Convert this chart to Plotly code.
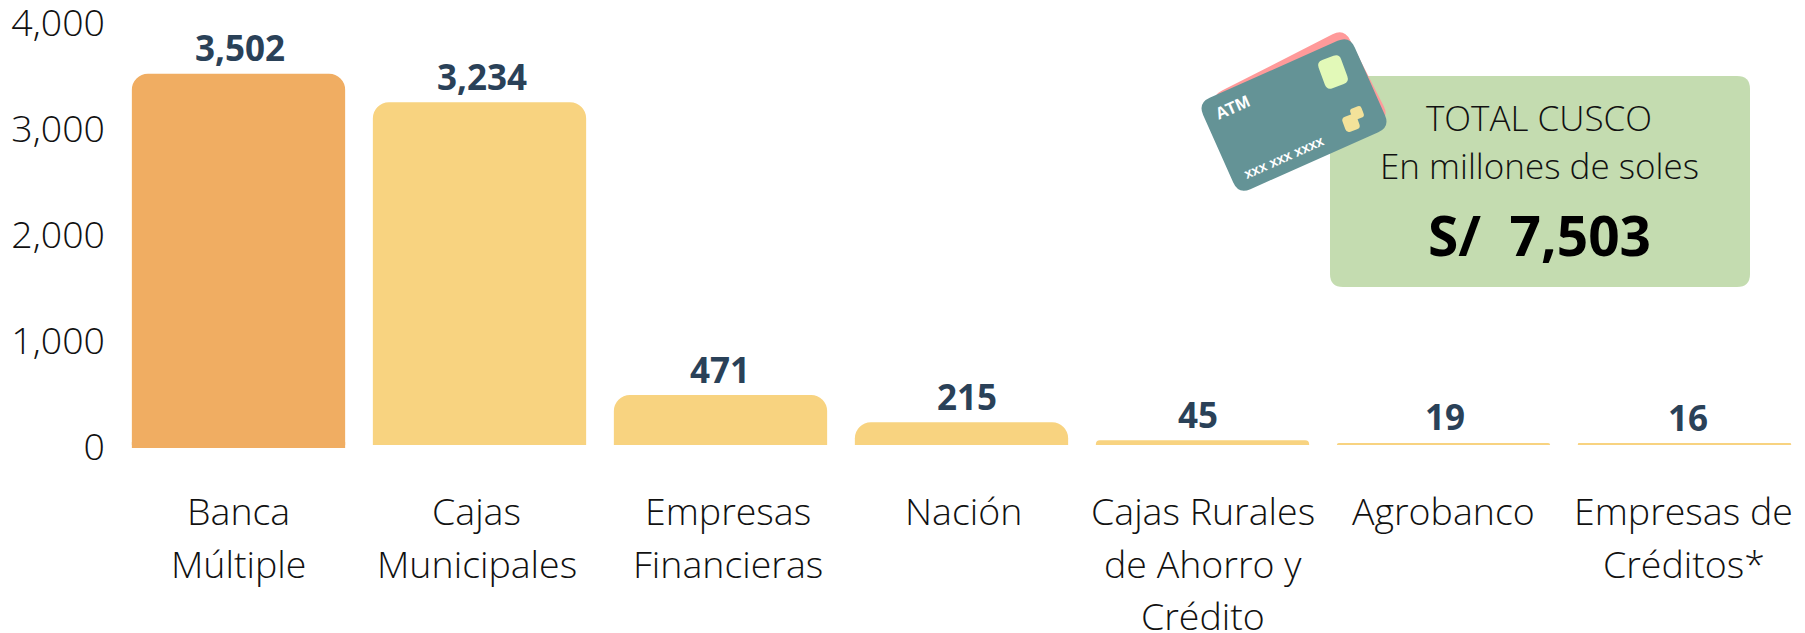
import math
import plotly.graph_objects as go

W, H = 1805, 633
ML, MR, MT, MB = 118, 0, 4, 157

category_lines = [["Banca", "Múltiple"], ["Cajas", "Municipales"], ["Empresas", "Financieras"], ["Nación"],
                  ["Cajas Rurales", "de Ahorro y", "Crédito"], ["Agrobanco"], ["Empresas de", "Créditos*"]]
categories = [" ".join(c) for c in category_lines]
values = [3502, 3234, 471, 215, 45, 19, 16]
value_labels = ["3,502", "3,234", "471", "215", "45", "19", "16"]
bar_colors = ["#F0AD62", "#F8D380", "#F8D380", "#F8D380", "#F8D380", "#F8D380", "#F8D380"]
y_ticks = [0, 1000, 2000, 3000, 4000]
y_tick_labels = ["0", "1,000", "2,000", "3,000", "4,000"]
first_bar_overhang = 28

px_per_unit = 0.106
y_bottom = -(H - MB - 445) / px_per_unit
y_top = (445 - MT) / px_per_unit


def px(x):
    return (x - ML) / (W - ML - MR)


def py(y):
    return 1 - (y - MT) / (H - MT - MB)


def card(cx, cy, w, h, angle, r):
    a = math.radians(angle)
    u = (math.cos(a), -math.sin(a))
    v = (math.sin(a), math.cos(a))

    def P(s, t):
        return (cx + s * u[0] + t * v[0], cy + s * u[1] + t * v[1])

    hw, hh = w / 2, h / 2
    pts = [
        P(-hw + r, -hh), P(hw - r, -hh), P(hw, -hh), P(hw, -hh + r),
        P(hw, hh - r), P(hw, hh), P(hw - r, hh), P(-hw + r, hh),
        P(-hw, hh), P(-hw, hh - r), P(-hw, -hh + r), P(-hw, -hh),
    ]
    f = lambda p: f"{px(p[0]):.5f},{py(p[1]):.5f}"
    return (f"M{f(pts[0])} L{f(pts[1])} Q{f(pts[2])} {f(pts[3])} L{f(pts[4])} Q{f(pts[5])} {f(pts[6])} "
            f"L{f(pts[7])} Q{f(pts[8])} {f(pts[9])} L{f(pts[10])} Q{f(pts[11])} {f(pts[0])} Z")


def deco(cx, cy, w, h, angle, r, color):
    return dict(type="path", xref="paper", yref="paper", path=card(cx, cy, w, h, angle, r),
                fillcolor=color, line=dict(width=0), layer="above")


fig = go.Figure()
fig.add_trace(go.Bar(
    x=categories, y=values, marker=dict(color=bar_colors, line=dict(width=0), cornerradius=16),
    cliponaxis=False, showlegend=False,
))
fig.add_trace(go.Bar(
    x=categories[:1], y=[2 * first_bar_overhang], base=[-first_bar_overhang],
    marker=dict(color=bar_colors[0], line=dict(width=0)), showlegend=False, hoverinfo="skip",
))

shapes = [
    deco(1540, 181.5, 420, 211, 0, 13, "#C4DCB0"),
    deco(1300, 107, 150, 100, 27, 13, "#FF9A9A"),
    deco(1294, 115, 166, 100, 24, 13, "#649396"),
    deco(1333, 72, 24, 30, 20, 6, "#E2F9B8"),
    deco(1351, 123, 15, 16, 20, 4, "#F3E29A"),
    deco(1357, 113, 12, 12, 20, 3, "#F3E29A"),
]


def note(x, y, text, size, color="#111111", weight=300, family="Open Sans", angle=0):
    return dict(xref="paper", yref="paper", x=px(x), y=py(y), text=text, showarrow=False,
                xanchor="center", yanchor="middle", textangle=angle,
                font=dict(family=family, size=size, color=color, weight=weight))


annotations = [
    note(1539, 117, "TOTAL CUSCO", 35),
    note(1539, 165, "En millones de soles", 35),
    note(1539, 235, "S/  7,503", 55, color="#000000", weight=700),
    note(1233, 108, "ATM", 17, color="#FFFFFF", weight=700, family="Liberation Sans", angle=-24),
    note(1284, 157, "xxx xxx xxxx", 14, color="#FFFFFF", weight=700, family="Liberation Sans", angle=-24),
]

label_first_line_y = 511
label_line_step = 52
label_xshift = [0, -3, 7, 2, 0, 0, -1]
for cat, lines, dx in zip(categories, category_lines, label_xshift):
    for i, line in enumerate(lines):
        annotations.append(dict(xref="x", yref="paper", x=cat, y=py(label_first_line_y + i * label_line_step),
                                xshift=dx, text=line, showarrow=False, xanchor="center", yanchor="middle",
                                font=dict(family="Open Sans", size=37.5, color="#111111", weight=300)))

value_xshift = [1, 2, -1, 5, -5, 1, 3]
for cat, val, lab, dx in zip(categories, values, value_labels, value_xshift):
    annotations.append(dict(xref="x", yref="y", x=cat, y=val, xshift=dx, yshift=26, text=lab, showarrow=False,
                            xanchor="center", yanchor="middle",
                            font=dict(family="Open Sans", size=35, color="#2A4158", weight=700)))

fig.update_layout(
    width=W, height=H, autosize=False,
    margin=dict(l=ML, r=MR, t=MT, b=MB, pad=0),
    paper_bgcolor="white", plot_bgcolor="white",
    barmode="overlay", bargap=0.115,
    shapes=shapes, annotations=annotations,
    font=dict(family="Open Sans"),
    xaxis=dict(type="category", automargin=False, showgrid=False, showline=False, zeroline=False, ticks="",
               showticklabels=False, range=[-0.5, 6.5]),
    yaxis=dict(range=[y_bottom, y_top], automargin=False, tickvals=y_ticks, ticktext=y_tick_labels,
               showgrid=False, showline=False, zeroline=False, ticks="", ticklabeloverflow="allow",
               ticklabelstandoff=12, ticklabelshift=2,
               tickfont=dict(family="Open Sans", size=37.5, color="#111111", weight=300)),
)
fig.write_html("out.html", config=dict(displayModeBar=False),
               post_script="document.body.style.margin='0';")
